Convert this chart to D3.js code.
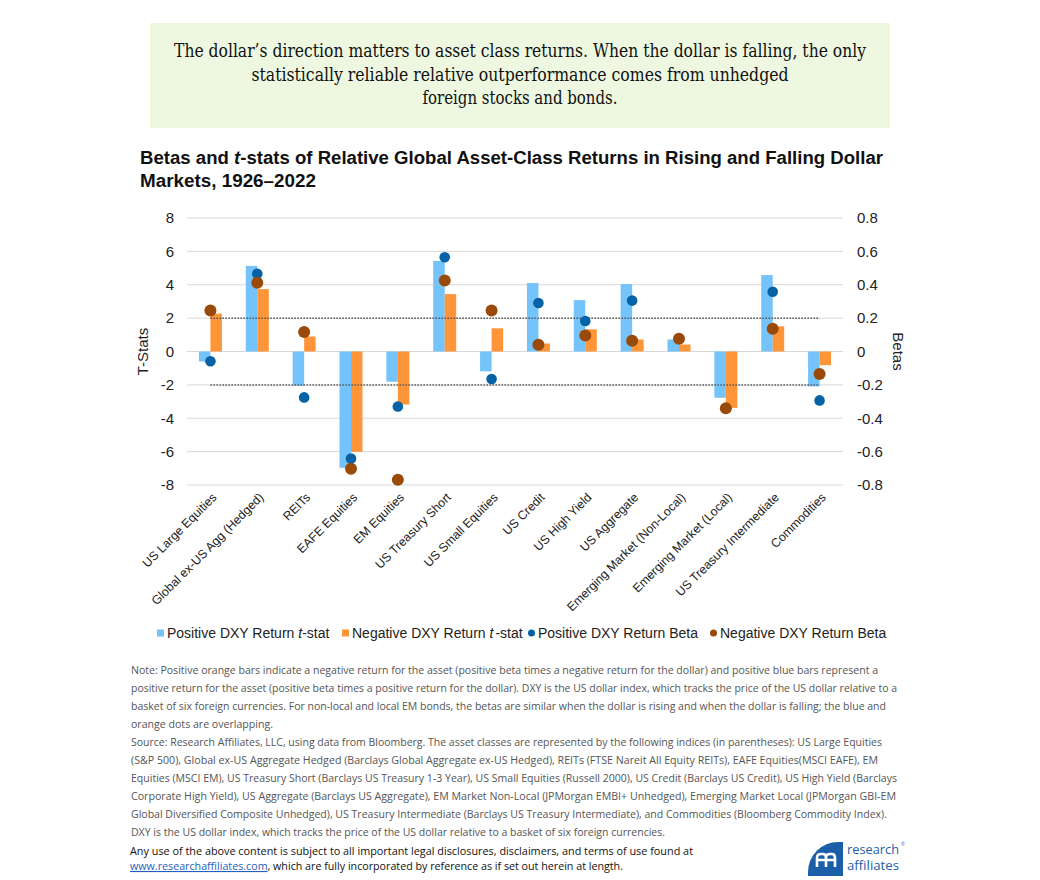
<!DOCTYPE html>
<html>
<head>
<meta charset="utf-8">
<script src="https://cdn.jsdelivr.net/npm/d3@7"></script>
<style>
  body { margin: 0; background: #fff; }
  svg text { font-family: "Liberation Sans", Arial, sans-serif; }
</style>
</head>
<body>
<svg id="chart" width="1040" height="880"></svg>
<script>
const categories = [
  'US Large Equities', 'Global ex-US Agg (Hedged)', 'REITs', 'EAFE Equities',
  'EM Equities', 'US Treasury Short', 'US Small Equities', 'US Credit',
  'US High Yield', 'US Aggregate', 'Emerging Market (Non-Local)',
  'Emerging Market (Local)', 'US Treasury Intermediate', 'Commodities'
];
const posTstat = [-0.6, 5.13, -2.05, -6.97, -1.81, 5.43, -1.19, 4.1, 3.08, 4.04, 0.72, -2.77, 4.58, -2.09];
const negTstat = [2.27, 3.74, 0.9, -6.01, -3.18, 3.44, 1.39, 0.48, 1.33, 0.72, 0.42, -3.38, 1.51, -0.82];
const posBeta = [-0.058, 0.466, -0.275, -0.641, -0.33, 0.565, -0.165, 0.291, 0.183, 0.305, 0.076, -0.34, 0.358, -0.293];
const negBeta = [0.245, 0.412, 0.117, -0.702, -0.768, 0.426, 0.245, 0.04, 0.096, 0.064, 0.076, -0.34, 0.137, -0.135];
const tTicks = [-8, -6, -4, -2, 0, 2, 4, 6, 8];
const betaTicks = [-0.8, -0.6, -0.4, -0.2, 0, 0.2, 0.4, 0.6, 0.8];
const thresholds = [2, -2];

const headline = [
  'The dollar\u2019s direction matters to asset class returns. When the dollar is falling, the only',
  'statistically reliable relative outperformance comes from unhedged',
  'foreign stocks and bonds.'
];
const noteLines = [
  'Note: Positive orange bars indicate a negative return for the asset (positive beta times a negative return for the dollar) and positive blue bars represent a',
  'positive return for the asset (positive beta times a positive return for the dollar). DXY is the US dollar index, which tracks the price of the US dollar relative to a',
  'basket of six foreign currencies. For non-local and local EM bonds, the betas are similar when the dollar is rising and when the dollar is falling; the blue and',
  'orange dots are overlapping.',
  'Source: Research Affiliates, LLC, using data from Bloomberg. The asset classes are represented by the following indices (in parentheses): US Large Equities',
  '(S&P 500), Global ex-US Aggregate Hedged (Barclays Global Aggregate ex-US Hedged), REITs (FTSE Nareit All Equity REITs), EAFE Equities(MSCI EAFE), EM',
  'Equities (MSCI EM), US Treasury Short (Barclays US Treasury 1-3 Year), US Small Equities (Russell 2000), US Credit (Barclays US Credit), US High Yield (Barclays',
  'Corporate High Yield), US Aggregate (Barclays US Aggregate), EM Market Non-Local (JPMorgan EMBI+ Unhedged), Emerging Market Local (JPMorgan GBI-EM',
  'Global Diversified Composite Unhedged), US Treasury Intermediate (Barclays US Treasury Intermediate), and Commodities (Bloomberg Commodity Index).',
  'DXY is the US dollar index, which tracks the price of the US dollar relative to a basket of six foreign currencies.'
];
// measured widths of the note lines in the original
const noteWidths = [747, 766, 755, 142, 751, 747, 766, 765, 756, 534];

const colors = { posBar: '#75c3fb', negBar: '#fe9538', posDot: '#0562a6', negDot: '#9a4a08' };

const svg = d3.select('#chart');
svg.append('rect').attr('width', 1040).attr('height', 880).attr('fill', '#fff');

// headline box
svg.append('rect').attr('x', 150).attr('y', 23).attr('width', 740).attr('height', 105).attr('fill', '#eef8e1');
const headWidths = [692, 537, 195];
svg.selectAll('.head')
  .data(headline)
  .enter()
  .append('text')
  .attr('class', 'head')
  .attr('x', 520)
  .attr('y', (d, i) => 57 + i * 23.5)
  .attr('text-anchor', 'middle')
  .attr('textLength', (d, i) => headWidths[i])
  .attr('lengthAdjust', 'spacingAndGlyphs')
  .style('font-family', '"DejaVu Serif Condensed", "DejaVu Serif", serif')
  .style('font-size', '18.5px')
  .attr('fill', '#111')
  .text((d) => d);

// chart title
const t1 = svg.append('text').attr('x', 140).attr('y', 164)
  .attr('textLength', 743).attr('lengthAdjust', 'spacingAndGlyphs')
  .style('font-size', '18px').style('font-weight', 'bold').attr('fill', '#111');
t1.append('tspan').text('Betas and ');
t1.append('tspan').style('font-style', 'italic').text('t');
t1.append('tspan').text('-stats of Relative Global Asset-Class Returns in Rising and Falling Dollar');
svg.append('text').attr('x', 140).attr('y', 187)
  .attr('textLength', 176).attr('lengthAdjust', 'spacingAndGlyphs')
  .style('font-size', '18px').style('font-weight', 'bold').attr('fill', '#111')
  .text('Markets, 1926\u20132022');

// scales
const plotLeft = 187, plotRight = 843, plotTop = 218, plotBottom = 485;
const x = d3.scaleBand().domain(categories).range([plotLeft, plotRight]).paddingInner(0).paddingOuter(0);
const y = d3.scaleLinear().domain([-8, 8]).range([plotBottom, plotTop]);
const yBeta = d3.scaleLinear().domain([-0.8, 0.8]).range([plotBottom, plotTop]);
const barW = 11.5;
const cx = (c) => x(c) + x.bandwidth() / 2;

// gridlines
svg.append('g')
  .selectAll('line')
  .data(tTicks)
  .enter()
  .append('line')
  .attr('x1', plotLeft).attr('x2', plotRight)
  .attr('y1', (d) => y(d)).attr('y2', (d) => y(d))
  .attr('stroke', '#d9d9d9').attr('stroke-width', 1);

// axes (plain hyphen minus, like the original)
const yAxis = d3.axisLeft(y).tickValues(tTicks).tickSize(0).tickPadding(0)
  .tickFormat((d) => String(d));
svg.append('g')
  .attr('transform', 'translate(174,0)')
  .call(yAxis)
  .call((g) => g.select('.domain').remove())
  .selectAll('text')
  .style('font-family', '"Liberation Sans", Arial, sans-serif')
  .style('font-size', '15px').attr('fill', '#222');

const yAxisR = d3.axisRight(yBeta).tickValues(betaTicks).tickSize(0).tickPadding(0)
  .tickFormat((d) => (d === 0 ? '0' : String(d)));
svg.append('g')
  .attr('transform', 'translate(857,0)')
  .call(yAxisR)
  .call((g) => g.select('.domain').remove())
  .selectAll('text')
  .style('font-family', '"Liberation Sans", Arial, sans-serif')
  .style('font-size', '15px').attr('fill', '#222');

svg.append('text')
  .attr('transform', `translate(148,${y(0)}) rotate(-90)`)
  .attr('text-anchor', 'middle')
  .style('font-size', '15px').attr('fill', '#222')
  .text('T-Stats');
svg.append('text')
  .attr('transform', `translate(893,${y(0)}) rotate(90)`)
  .attr('text-anchor', 'middle')
  .style('font-size', '15px').attr('fill', '#222')
  .text('Betas');

// bars
const bars = svg.append('g');
bars.selectAll('.pos-bar')
  .data(posTstat)
  .enter()
  .append('rect')
  .attr('class', 'pos-bar')
  .attr('x', (d, i) => cx(categories[i]) - barW)
  .attr('width', barW)
  .attr('y', (d) => Math.min(y(d), y(0)))
  .attr('height', (d) => Math.abs(y(d) - y(0)))
  .attr('fill', colors.posBar);
bars.selectAll('.neg-bar')
  .data(negTstat)
  .enter()
  .append('rect')
  .attr('class', 'neg-bar')
  .attr('x', (d, i) => cx(categories[i]))
  .attr('width', barW)
  .attr('y', (d) => Math.min(y(d), y(0)))
  .attr('height', (d) => Math.abs(y(d) - y(0)))
  .attr('fill', colors.negBar);

// +/-2 significance lines
svg.append('g')
  .selectAll('line')
  .data(thresholds)
  .enter()
  .append('line')
  .attr('x1', cx(categories[0])).attr('x2', cx(categories[categories.length - 1]))
  .attr('y1', (d) => y(d)).attr('y2', (d) => y(d))
  .attr('stroke', '#555').attr('stroke-width', 1.5).attr('stroke-dasharray', '1.5,1.5');

// beta dots
svg.append('g')
  .selectAll('circle')
  .data(posBeta)
  .enter()
  .append('circle')
  .attr('cx', (d, i) => cx(categories[i]))
  .attr('cy', (d) => yBeta(d))
  .attr('r', 5.3)
  .attr('fill', colors.posDot);
svg.append('g')
  .selectAll('circle')
  .data(negBeta)
  .enter()
  .append('circle')
  .attr('cx', (d, i) => cx(categories[i]))
  .attr('cy', (d) => yBeta(d))
  .attr('r', 6)
  .attr('fill', colors.negDot);

// category labels
svg.append('g')
  .selectAll('text')
  .data(categories)
  .enter()
  .append('text')
  .attr('transform', (d) => `translate(${cx(d) + 4},${495}) rotate(-45)`)
  .attr('text-anchor', 'end')
  .attr('dy', '0.35em')
  .style('font-size', '12.3px').attr('fill', '#222')
  .text((d) => d);

// legend
const legend = [
  { label: 'Positive DXY Return ', it: 't', rest: '-stat', shape: 'rect', color: colors.posBar, x: 157 },
  { label: 'Negative DXY Return ', it: 't', rest: '-stat', shape: 'rect', color: colors.negBar, x: 342 },
  { label: 'Positive DXY Return Beta', it: '', rest: '', shape: 'circle', color: colors.posDot, x: 528 },
  { label: 'Negative DXY Return Beta', it: '', rest: '', shape: 'circle', color: colors.negDot, x: 710 }
];
const lg = svg.append('g').selectAll('g').data(legend).enter().append('g')
  .attr('transform', (d) => `translate(${d.x},633)`);
lg.filter((d) => d.shape === 'rect').append('rect')
  .attr('x', 0).attr('y', -3.5).attr('width', 7).attr('height', 7).attr('fill', (d) => d.color);
lg.filter((d) => d.shape === 'circle').append('circle')
  .attr('cx', 3.5).attr('cy', 0).attr('r', 3.5).attr('fill', (d) => d.color);
const lt = lg.append('text').attr('x', 10).attr('dy', '0.35em')
  .style('font-size', '14px').attr('fill', '#222');
lt.append('tspan').text((d) => d.label);
lt.append('tspan').style('font-style', 'italic').text((d) => d.it);
lt.append('tspan').attr('dx', (d) => (d.it && d.x > 300 ? 2 : 0)).text((d) => d.rest);

// notes
svg.append('g')
  .selectAll('text')
  .data(noteLines)
  .enter()
  .append('text')
  .attr('x', 131)
  .attr('y', (d, i) => 674 + i * 18)
  .attr('textLength', (d, i) => noteWidths[i])
  .attr('lengthAdjust', 'spacingAndGlyphs')
  .style('font-family', '"Open Sans", sans-serif')
  .style('font-size', '10.5px')
  .attr('fill', '#555')
  .text((d) => d);

// footer
svg.append('text').attr('x', 130).attr('y', 855)
  .attr('textLength', 563).attr('lengthAdjust', 'spacingAndGlyphs')
  .style('font-family', '"Open Sans", sans-serif').style('font-size', '10.8px').attr('fill', '#111')
  .text('Any use of the above content is subject to all important legal disclosures, disclaimers, and terms of use found at');
const f2 = svg.append('text').attr('x', 130).attr('y', 870)
  .attr('textLength', 493).attr('lengthAdjust', 'spacingAndGlyphs')
  .style('font-family', '"Open Sans", sans-serif').style('font-size', '10.8px').attr('fill', '#111');
f2.append('tspan').attr('fill', '#1f5fbf').style('text-decoration', 'underline').text('www.researchaffiliates.com');
f2.append('tspan').text(', which are fully incorporated by reference as if set out herein at length.');

// logo
const logo = svg.append('g').attr('transform', 'translate(808,842)');
logo.append('path')
  .attr('d', 'M0,34 L0,30 A30,30 0 0 1 30,0 L35,0 L35,34 Z')
  .attr('fill', '#1a5fa8');
logo.append('path')
  .attr('d', 'M9,25 L9,16 Q9,12 13,12 L15,12 Q18,12 18,16 L18,25 M18,16 Q18,12 22,12 L24,12 Q27,12 27,16 L27,25 M9,18 L27,18')
  .attr('fill', 'none').attr('stroke', '#fff').attr('stroke-width', 2.6);
logo.append('text').attr('x', 39).attr('y', 12)
  .attr('textLength', 52).attr('lengthAdjust', 'spacingAndGlyphs')
  .style('font-family', '"Open Sans", sans-serif').style('font-size', '12.5px').attr('fill', '#1a5fa8')
  .text('research');
logo.append('text').attr('x', 93).attr('y', 4)
  .style('font-size', '5px').attr('fill', '#1a5fa8').text('\u00ae');
logo.append('text').attr('x', 39).attr('y', 28)
  .attr('textLength', 52).attr('lengthAdjust', 'spacingAndGlyphs')
  .style('font-family', '"Open Sans", sans-serif').style('font-size', '12.5px').attr('fill', '#1a5fa8')
  .text('affiliates');
</script>
</body>
</html>
